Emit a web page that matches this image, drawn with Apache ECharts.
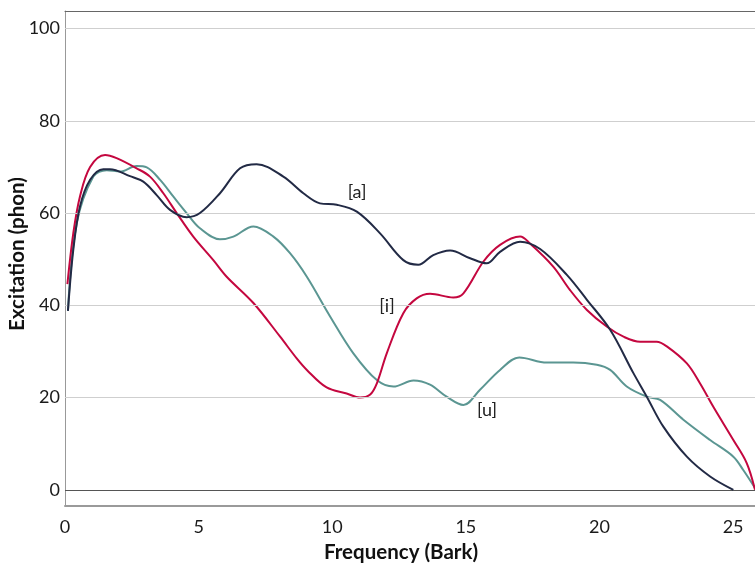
<!DOCTYPE html>
<html>
<head>
<meta charset="utf-8">
<script src="https://cdn.jsdelivr.net/npm/echarts@6/dist/echarts.min.js"></script>
<style>html,body{margin:0;padding:0;background:#fff}#c{width:755px;height:566px}</style>
</head>
<body>
<div id="c"></div>
<script>
// ---- data ----
var aBark = [0.11,0.31,0.56,0.94,1.43,1.68,2.43,2.93,3.43,3.93,4.55,5.05,5.8,6.55,7.17,8.17,8.92,9.54,10.17,10.92,11.79,12.66,13.22,13.78,14.41,15.16,15.78,16.28,17.03,17.78,18.78,19.53,20.4,21.27,21.77,22.39,23.27,24.14,25.01];
var aPhon = [38.8,52,61.4,67.2,69.5,69.5,68,66.8,63.9,60.7,59.1,60,64.3,69.7,70.6,67.9,64.3,62.1,61.8,60.3,55.6,49.8,48.8,50.9,51.9,50.2,49.1,51.6,53.8,52.2,46.6,41.2,34.7,25.3,20.2,13.7,7.2,2.9,0];

var iBark = [0.09,0.31,0.56,0.94,1.5,1.93,2.68,3.18,3.68,4.18,4.8,5.55,6.05,7.05,8.05,8.67,9.05,9.79,10.54,11.04,11.41,11.67,12.04,12.66,13.16,13.66,14.53,14.91,15.66,16.28,17.03,17.4,18.27,18.9,19.53,20.27,20.9,21.52,22.14,22.52,23.27,23.76,24.26,25.01,25.51,25.82];
var iPhon = [44.6,55.6,63.6,70,72.6,71.9,69.7,67.9,64.3,60,54.9,49.8,46.2,40.5,33.2,28.5,26,22.2,20.9,20,20.6,23.1,29.6,38.3,41.5,42.5,41.7,42.6,49.5,53.1,54.9,53.4,48.4,43.3,39,35.4,33.2,32.1,32.1,31.1,27.4,23.1,18,10.8,5.8,0];

var uBark = [0.11,0.44,1.06,1.56,2.06,2.68,3.06,3.56,4.05,4.55,5.05,5.8,6.3,7.05,7.8,8.42,9.05,9.92,10.79,11.67,12.29,13.04,13.66,14.28,14.91,15.53,16.28,17.0,18.03,19.02,19.9,20.4,21.02,21.77,22.27,23.14,24.14,25.01,25.38,25.82];
var uPhon = [38.8,57.8,67.9,69.3,69,70.2,69.9,67.2,63.6,60,56.7,54.3,54.9,57.1,54.9,51.3,46.2,37.6,29.6,23.8,22.4,23.7,22.8,20.2,18.4,21.7,26,28.7,27.6,27.6,27.1,26,22.4,20.2,19.5,15.2,10.8,7.2,4.3,0.4];

var xTicks = [0,5,10,15,20,25];
var yTicks = [0,20,40,60,80,100];
var yGrid = [20,40,60,80,100];

// label anchors (data coordinates)
var labelA = {text:'[a]', bark:10.93, phon:64.6};
var labelI = {text:'[i]', bark:12.05, phon:39.9};
var labelU = {text:'[u]', bark:15.79, phon:17.3};

var xTitle = 'Frequency (Bark)';
var yTitle = 'Excitation (phon)';

// ---- build ----
function pairs(xs, ys){ return xs.map(function(x,k){ return [x, ys[k]]; }); }
var FONT = 'Lato';
function lbl(o){
  return {coord:[o.bark,o.phon], symbol:'circle', symbolSize:2,
    itemStyle:{color:'rgba(0,0,0,0)'},
    label:{show:true, formatter:o.text, color:'#222', fontFamily:FONT, fontSize:18, position:'inside'}};
}

var chart = echarts.init(document.getElementById('c'), null, {renderer:'canvas'});
chart.setOption({
  animation:false,
  backgroundColor:'#fff',
  grid:{left:65, right:0, top:11, bottom:60, containLabel:false},
  xAxis:[{
    type:'value', min:0, max:25.82,
    axisLine:{show:true, onZero:false, lineStyle:{color:'#9a9a9a', width:2}},
    axisTick:{show:false},
    splitLine:{show:false},
    axisLabel:{customValues:xTicks, color:'#1a1a1a', fontFamily:FONT, fontSize:18, margin:12}
  },{
    type:'value', position:'top', min:0, max:25.82,
    axisLine:{show:true, onZero:false, lineStyle:{color:'#666', width:1}},
    axisTick:{show:false}, axisLabel:{show:false}, splitLine:{show:false}
  }],
  yAxis:{
    type:'value', min:-3.5, max:103.8,
    axisLine:{show:true, onZero:false, lineStyle:{color:'#999', width:1}},
    axisTick:{show:false},
    splitLine:{show:false},
    axisLabel:{customValues:yTicks, color:'#1a1a1a', fontFamily:FONT, fontSize:18, margin:5}
  },
  graphic:[
    {type:'text', x:401, y:552, style:{text:xTitle, fontFamily:FONT, fontWeight:'bold', fontSize:20.5, fill:'#111', textAlign:'center', textVerticalAlign:'middle'}},
    {type:'text', x:17, y:254, rotation:Math.PI/2, style:{text:yTitle, fontFamily:FONT, fontWeight:'bold', fontSize:20.5, fill:'#111', textAlign:'center', textVerticalAlign:'middle'}}
  ],
  series:[
    {type:'line', name:'grid', data:[], silent:true,
      markLine:{symbol:'none', silent:true, label:{show:false},
        data: yGrid.map(function(v){ return {yAxis:v, lineStyle:{color:'#cfcfcf', width:1, type:'solid'}}; })
          .concat([{yAxis:0, lineStyle:{color:'#555', width:1, type:'solid'}}])}
    },
    {type:'line', name:'[u]', data:pairs(uBark,uPhon), smooth:0.35, showSymbol:false,
      lineStyle:{color:'#5b9692', width:2}, itemStyle:{color:'#5b9692'}, z:3,
      markPoint:{data:[lbl(labelU)]}},
    {type:'line', name:'[i]', data:pairs(iBark,iPhon), smooth:0.35, showSymbol:false,
      lineStyle:{color:'#c4073f', width:2}, itemStyle:{color:'#c4073f'}, z:4,
      markPoint:{data:[lbl(labelI)]}},
    {type:'line', name:'[a]', data:pairs(aBark,aPhon), smooth:0.35, showSymbol:false,
      lineStyle:{color:'#222a45', width:2}, itemStyle:{color:'#222a45'}, z:5,
      markPoint:{data:[lbl(labelA)]}}
  ]
});
</script>
</body>
</html>
